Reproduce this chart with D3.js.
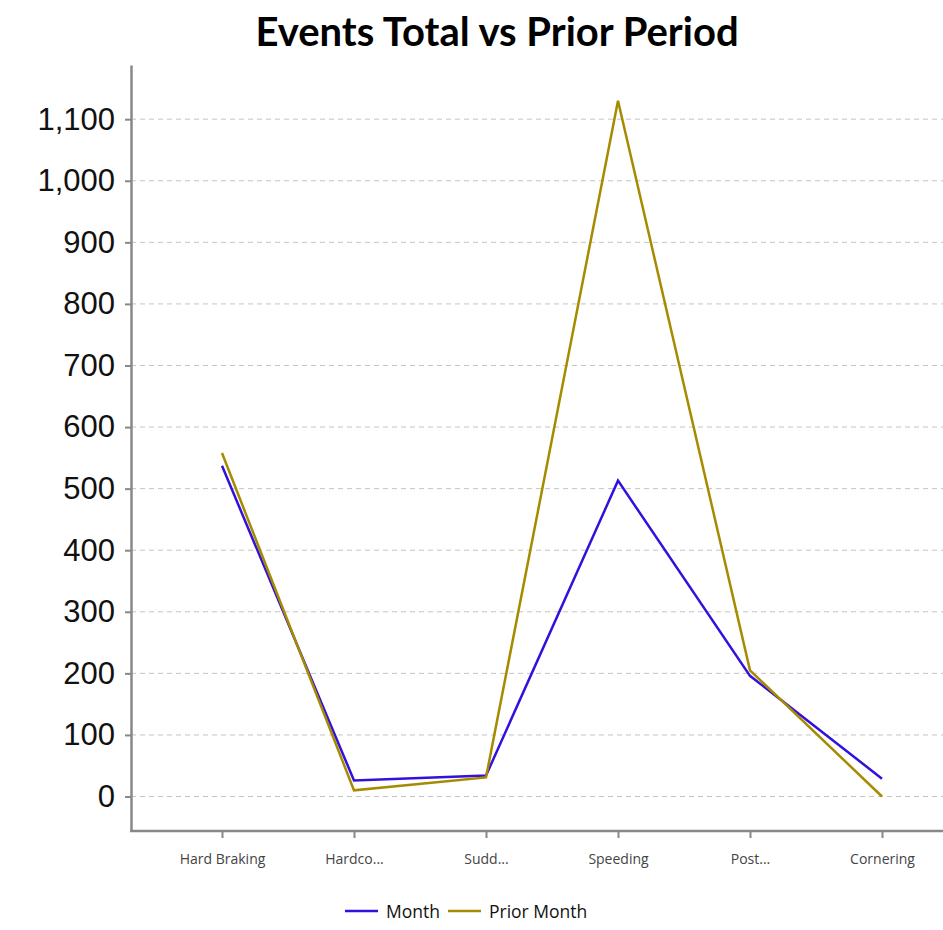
<!DOCTYPE html>
<html>
<head>
<meta charset="utf-8">
<script src="https://cdn.jsdelivr.net/npm/d3@7"></script>
<style>
  body { margin: 0; background: #fff; }
</style>
</head>
<body>
<div id="chart"></div>
<script>
const width = 943;
const height = 930;

// data
const categories = ["Hard Braking", "Hardco...", "Sudd...", "Speeding", "Post...", "Cornering"];
const monthValues = [537, 26, 34, 513, 196, 29];
const priorValues = [558, 10, 31, 1130, 205, 0];
const seriesNames = ["Month", "Prior Month"];
const seriesColors = ["#3311dd", "#a68b00"];
const yTicks = [0, 100, 200, 300, 400, 500, 600, 700, 800, 900, 1000, 1100];

var svg = d3.select("#chart")
    .append("svg")
    .attr("width", width)
    .attr("height", height);

// scales
var xScale = d3.scalePoint()
    .domain(categories)
    .range([222, 882]);

var yScale = d3.scaleLinear()
    .domain([-56, 1188])
    .range([831, 65]);

// title
svg.append("text")
    .attr("x", 497)
    .attr("y", 46)
    .attr("text-anchor", "middle")
    .attr("font-family", "Lato, Open Sans, sans-serif")
    .attr("font-weight", "bold")
    .attr("font-size", "40px")
    .attr("fill", "#000")
    .text("Events Total vs Prior Period");

// grid lines
svg.append("g")
    .selectAll("line")
    .data(yTicks)
    .join("line")
    .attr("x1", 131)
    .attr("x2", width)
    .attr("y1", d => yScale(d))
    .attr("y2", d => yScale(d))
    .attr("stroke", "#c4c4c4")
    .attr("stroke-width", 1)
    .attr("stroke-dasharray", "5,4");

// y axis
var yAxis = svg.append("g")
    .attr("transform", "translate(131,0)")
    .call(d3.axisLeft(yScale).tickValues(yTicks).tickSizeInner(6).tickSizeOuter(0).tickPadding(10).tickFormat(d3.format(",")));
yAxis.select(".domain").attr("stroke", "#888").attr("stroke-width", 2.5);
yAxis.selectAll(".tick line").attr("stroke", "#888").attr("stroke-width", 2);
yAxis.selectAll(".tick text")
    .attr("font-family", "Liberation Sans, Arial, sans-serif")
    .attr("font-size", "31px")
    .attr("fill", "#111");

// x axis
var xAxis = svg.append("g")
    .attr("transform", "translate(0,831)")
    .call(d3.axisBottom(xScale).tickSize(7).tickPadding(16));
xAxis.select(".domain").remove();
xAxis.append("line")
    .attr("x1", 130).attr("x2", width)
    .attr("stroke", "#888").attr("stroke-width", 2.5);
xAxis.selectAll(".tick line").attr("stroke", "#888").attr("stroke-width", 2);
xAxis.selectAll(".tick text")
    .attr("font-family", "Open Sans, Noto Sans, sans-serif")
    .attr("font-size", "14px")
    .attr("fill", "#444");

// lines
var line = d3.line()
    .x((d, i) => xScale(categories[i]))
    .y(d => yScale(d));

[monthValues, priorValues].forEach(function(values, i) {
    svg.append("path")
        .datum(values)
        .attr("fill", "none")
        .attr("stroke", seriesColors[i])
        .attr("stroke-width", 2.5)
        .attr("stroke-linejoin", "miter")
        .attr("d", line);
});

// legend
var legendX = [345, 448];
var legend = svg.append("g")
    .selectAll("g")
    .data(seriesNames)
    .join("g")
    .attr("transform", (d, i) => `translate(${legendX[i]}, 911)`);

legend.append("line")
    .attr("x1", 0).attr("x2", 33)
    .attr("stroke", (d, i) => seriesColors[i])
    .attr("stroke-width", 2.5);

legend.append("text")
    .attr("x", 41)
    .attr("y", 7)
    .attr("font-family", "Open Sans, Noto Sans, sans-serif")
    .attr("font-size", "17.5px")
    .attr("fill", "#111")
    .text(d => d);
</script>
</body>
</html>
